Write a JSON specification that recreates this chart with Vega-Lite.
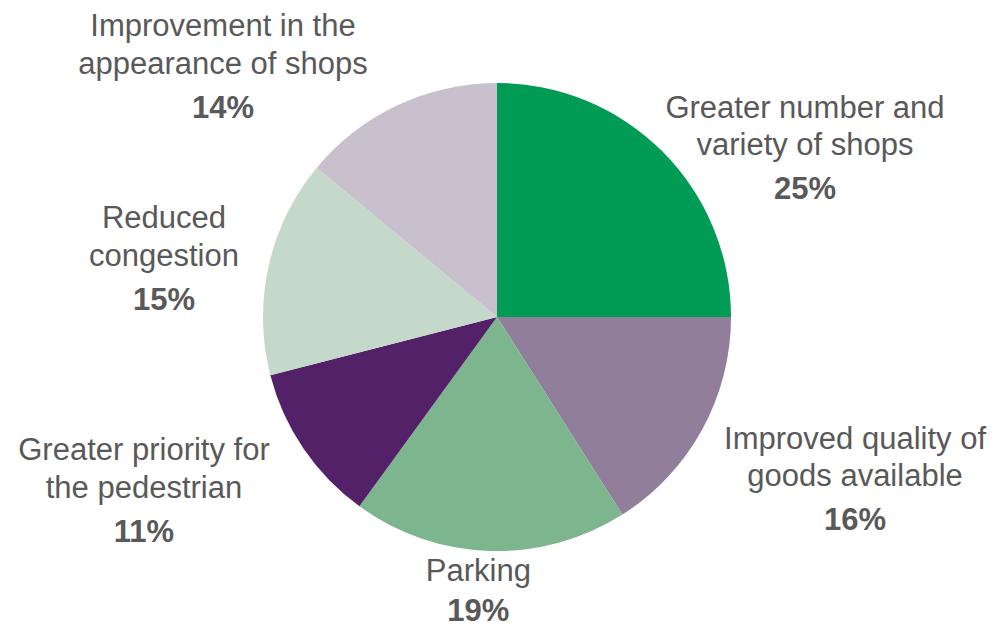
{
  "$schema": "https://vega.github.io/schema/vega-lite/v6.json",
  "width": 994,
  "height": 620,
  "autosize": {"type": "none"},
  "padding": {"left": 0, "top": 7, "right": 5, "bottom": 0},
  "background": "white",
  "view": {"stroke": null},
  "data": {
    "values": [
      {"rank": 1, "category": "Greater number and variety of shops", "label": "Greater number and\nvariety of shops", "value": 25},
      {"rank": 2, "category": "Improved quality of goods available", "label": "Improved quality of\ngoods available", "value": 16},
      {"rank": 3, "category": "Parking", "label": "Parking", "value": 19},
      {"rank": 4, "category": "Greater priority for the pedestrian", "label": "Greater priority for\nthe pedestrian", "value": 11},
      {"rank": 5, "category": "Reduced congestion", "label": "Reduced\ncongestion", "value": 15},
      {"rank": 6, "category": "Improvement in the appearance of shops", "label": "Improvement in the\nappearance of shops", "value": 14}
    ]
  },
  "layer": [
    {
      "mark": {"type": "arc", "outerRadius": 234},
      "encoding": {
        "theta": {"field": "value", "type": "quantitative", "stack": true},
        "order": {"field": "rank", "type": "quantitative"},
        "color": {
          "field": "category",
          "type": "nominal",
          "scale": {
            "domain": ["Greater number and variety of shops", "Improved quality of goods available", "Parking", "Greater priority for the pedestrian", "Reduced congestion", "Improvement in the appearance of shops"],
            "range": ["#009B55", "#917E9B", "#7DB58F", "#522168", "#C4D9C9", "#C8C0CD"]
          },
          "legend": null
        }
      }
    },
    {
      "transform": [{"filter": "indexof(datum.label, '\\n') >= 0"}],
      "mark": {"type": "text", "font": "Liberation Sans", "fontSize": 31, "fill": "#595959", "align": "center", "baseline": "alphabetic", "dy": -59.5, "lineHeight": 37.5, "lineBreak": "\n"},
      "encoding": {
        "theta": {
          "field": "rank", "type": "quantitative", "stack": false,
          "scale": {"type": "linear", "zero": false, "domain": [1, 2, 3, 4, 5, 6], "range": [1.1443, 2.0609, 3.2074, 4.1906, 4.7993, 5.3922]}
        },
        "radius": {
          "field": "rank", "type": "quantitative",
          "scale": {"type": "linear", "zero": false, "domain": [1, 2, 3, 4, 5, 6], "range": [338.3, 405.8, 283, 407.2, 334.3, 352.3]}
        },
        "text": {"field": "label"}
      }
    },
    {
      "transform": [{"filter": "indexof(datum.label, '\\n') < 0"}],
      "mark": {"type": "text", "font": "Liberation Sans", "fontSize": 31, "fill": "#595959", "align": "center", "baseline": "alphabetic", "dy": -18},
      "encoding": {
        "theta": {
          "field": "rank", "type": "quantitative", "stack": false,
          "scale": {"type": "linear", "zero": false, "domain": [1, 2, 3, 4, 5, 6], "range": [1.1443, 2.0609, 3.2074, 4.1906, 4.7993, 5.3922]}
        },
        "radius": {
          "field": "rank", "type": "quantitative",
          "scale": {"type": "linear", "zero": false, "domain": [1, 2, 3, 4, 5, 6], "range": [338.3, 405.8, 283, 407.2, 334.3, 352.3]}
        },
        "text": {"field": "label"}
      }
    },
    {
      "transform": [{"calculate": "datum.value + '%'", "as": "pct"}],
      "mark": {"type": "text", "font": "Liberation Sans", "fontSize": 31, "fontWeight": "bold", "fill": "#595959", "align": "center", "baseline": "alphabetic", "dy": 22},
      "encoding": {
        "theta": {
          "field": "rank", "type": "quantitative", "stack": false,
          "scale": {"type": "linear", "zero": false, "domain": [1, 2, 3, 4, 5, 6], "range": [1.1443, 2.0609, 3.2074, 4.1906, 4.7993, 5.3922]}
        },
        "radius": {
          "field": "rank", "type": "quantitative",
          "scale": {"type": "linear", "zero": false, "domain": [1, 2, 3, 4, 5, 6], "range": [338.3, 405.8, 283, 407.2, 334.3, 352.3]}
        },
        "text": {"field": "pct"}
      }
    }
  ],
  "resolve": {"scale": {"theta": "independent", "radius": "independent"}}
}
